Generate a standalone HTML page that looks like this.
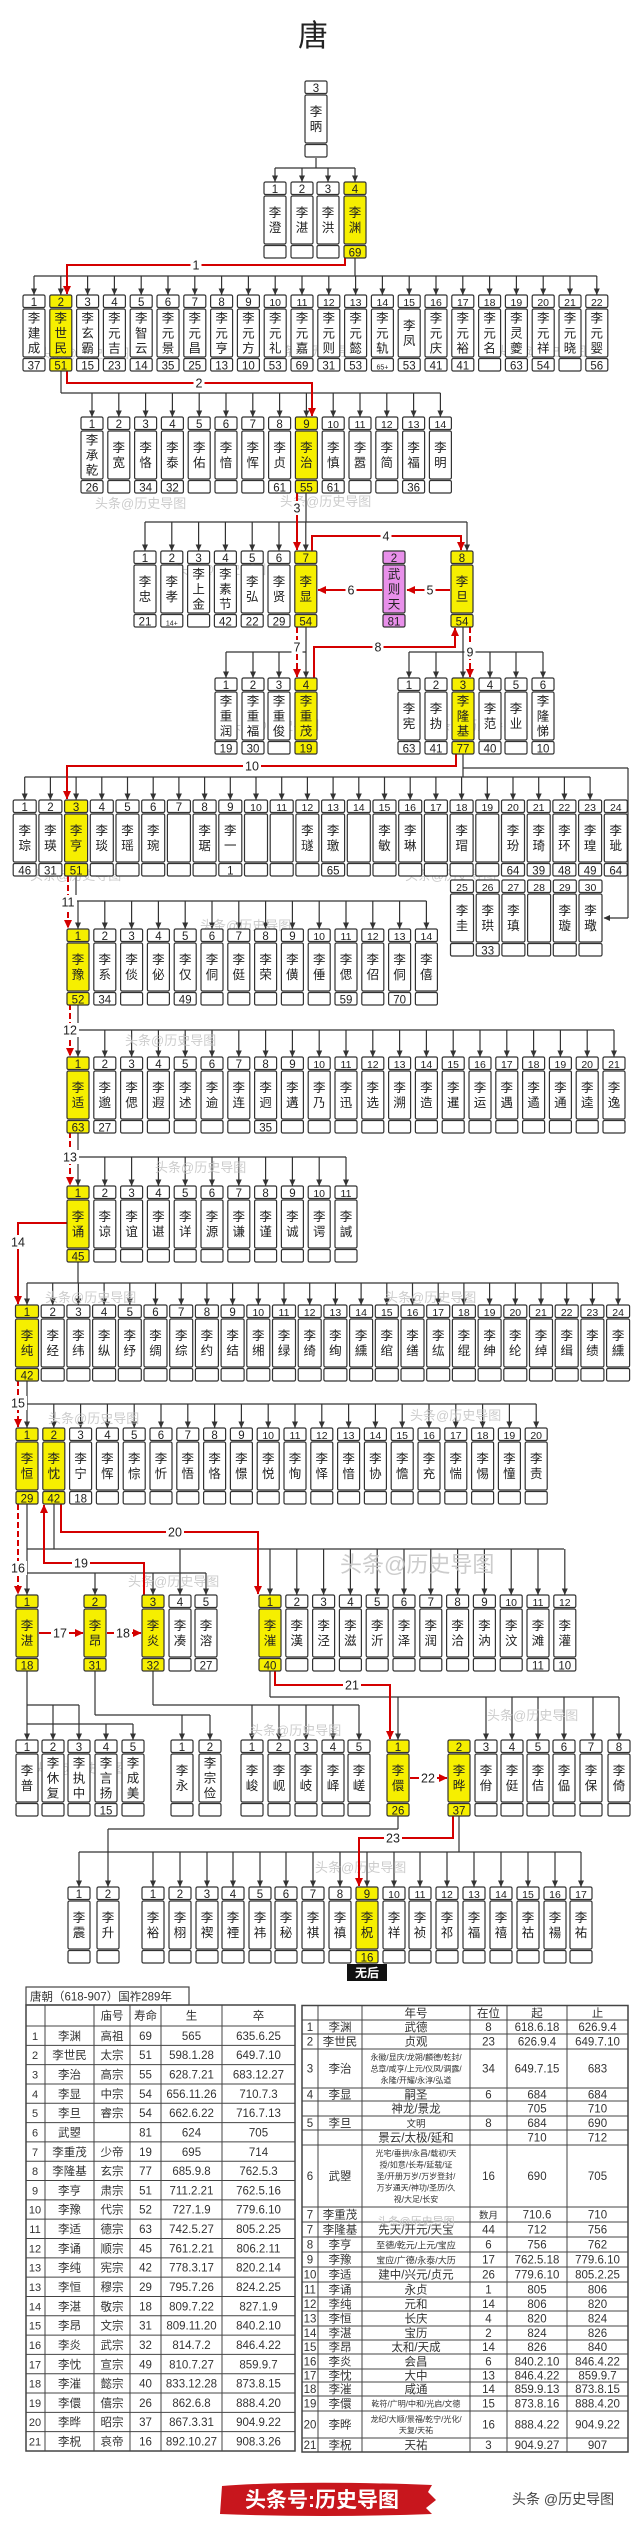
<!DOCTYPE html>
<html><head><meta charset="utf-8"><style>
html,body{margin:0;padding:0;background:#fff;width:640px;height:2542px;overflow:hidden}
svg{display:block}
text{font-family:"Liberation Sans","Noto Sans CJK SC",sans-serif}
</style></head><body>
<svg id="s" width="640" height="2542" viewBox="0 0 640 2542" xmlns="http://www.w3.org/2000/svg">
<defs>
<marker id="a" markerWidth="7" markerHeight="7" refX="6" refY="3.5" orient="auto" markerUnits="userSpaceOnUse"><path d="M0,0.5 L6.5,3.5 L0,6.5 Z" fill="#333"/></marker>
<marker id="r" markerWidth="9" markerHeight="9" refX="8" refY="4.5" orient="auto" markerUnits="userSpaceOnUse"><path d="M0,0.5 L8.5,4.5 L0,8.5 Z" fill="#d40000"/></marker>
</defs>
<rect width="640" height="2542" fill="#fff"/>
<g id="g"></g>
</svg>
<script>
var S=[];
var Y='#f6ef00',P='#e890ea';
function esc(t){return String(t)}
function box(cx,top,num,name,age,fill,w){
 w=w||22;fill=fill||'#fff';var x=cx-w/2;
 var st='stroke="#333" stroke-width="1.2"';
 S.push('<rect x="'+x+'" y="'+top+'" width="'+w+'" height="12.5" rx="1.5" fill="'+fill+'" '+st+'/>');
 S.push('<rect x="'+x+'" y="'+(top+14)+'" width="'+w+'" height="48" rx="1.5" fill="'+fill+'" '+st+'/>');
 S.push('<rect x="'+x+'" y="'+(top+63.5)+'" width="'+w+'" height="12.5" rx="1.5" fill="'+fill+'" '+st+'/>');
 var fs=String(num).length>1?10.5:11.5;
 S.push('<text x="'+cx+'" y="'+(top+10.8)+'" font-size="'+fs+'" text-anchor="middle" fill="#222">'+num+'</text>');
 if(name){var ch=Array.from(name),n=ch.length,lh=15,c=top+14+24,y0=c-n*lh/2+lh*0.8;
  for(var i=0;i<n;i++)S.push('<text x="'+cx+'" y="'+(y0+i*lh)+'" font-size="12.5" text-anchor="middle" fill="#222">'+ch[i]+'</text>');}
 if(age){var af=age.indexOf('+')>=0?7:11.5;
  S.push('<text x="'+cx+'" y="'+(top+74.3)+'" font-size="'+af+'" text-anchor="middle" fill="#222">'+age+'</text>');}
}
function row(xs,top,nums,names,ages,yel,w){
 for(var i=0;i<names.length;i++){box(xs[i],top,nums?nums[i]:(i+1),names[i],(ages&&ages[i])||'',(yel&&yel.indexOf(i)>=0)?Y:null,w);}
}
function seq(s,p,n){var a=[];for(var i=0;i<n;i++)a.push(+(s+p*i).toFixed(1));return a}
function ln(x1,y1,x2,y2){S.push('<line x1="'+x1+'" y1="'+y1+'" x2="'+x2+'" y2="'+y2+'" stroke="#333" stroke-width="1.2"/>')}
function drop(x,y1,y2){S.push('<line x1="'+x+'" y1="'+y1+'" x2="'+x+'" y2="'+(y2-0.5)+'" stroke="#333" stroke-width="1.2" marker-end="url(#a)"/>')}
function bus(px,py,by,xs,ty,hx1,hx2){
 ln(px,py,px,by);
 var mn=Math.min.apply(null,xs.concat([px])),mx=Math.max.apply(null,xs.concat([px]));
 if(hx1!=null)mn=hx1;if(hx2!=null)mx=hx2;
 ln(mn,by,mx,by);xs.forEach(function(x){drop(x,by,ty)});
}
function red(pts,dash){S.push('<polyline points="'+pts.map(function(p){return p.join(',')}).join(' ')+'" fill="none" stroke="#d40000" stroke-width="2"'+(dash?' stroke-dasharray="6,3"':'')+' marker-end="url(#r)"/>')}
function lab(x,y,t){var w=t.length*7+4;S.push('<rect x="'+(x-w/2)+'" y="'+(y-7)+'" width="'+w+'" height="14" fill="#fff"/>');S.push('<text x="'+x+'" y="'+(y+4.5)+'" font-size="12.5" text-anchor="middle" fill="#222">'+t+'</text>')}
function wm(x,y,fs){S.push('<text x="'+x+'" y="'+y+'" font-size="'+(fs||13)+'" fill="#c4c4c4" opacity="0.85">头条@历史导图</text>')}

// title
S.push('<text x="313" y="46" font-size="30" text-anchor="middle" fill="#222">唐</text>');

// connectors black
bus(316,158,168,[275,302,328,355],182);
var C=seq(34,26.8,22);
bus(355,258,276,C,295);
var D=seq(92,26.8,14);
bus(61,371,393,D,417);
var E=seq(145,26.8,7);
bus(306,492,522,E.concat([467]),551);
var F=[226,253,279,306];
bus(306,627,652,F,678);
var G=[409,436,463,490,516,543];
bus(463,627,652,G,678);
var H=seq(24.7,25.7,24);
bus(463,753,777,H.slice(0,23),800);
ln(463,768,628,768);ln(628,768,628,918);
S.push('<line x1="628" y1="918" x2="604" y2="918" stroke="#333" stroke-width="1.2" marker-end="url(#a)"/>');
var H2=seq(462,25.7,6);
var I=seq(78,26.8,14);
bus(76,876,901,I,929);
var J=seq(78,26.8,21);
bus(78,1004,1030,J,1057);
var K=seq(78,26.8,11);
bus(78,1132,1157,K,1186);
var L=seq(27,25.7,24);
bus(78,1261,1283,L,1305);
var M=seq(27,26.8,20);
bus(27,1380,1404,M,1428);
// row M -> N
bus(27,1504,1573,[27,95,153,206],1595);
var NR=seq(270,26.8,12);
ln(54,1504,54,1549);ln(27,1549,564,1549);drop(180,1549,1595);NR.forEach(function(x){drop(x,1549,1595)});
// N -> O
ln(27,1670,27,1724);ln(27,1705,79,1705);ln(27,1724,133,1724);
drop(27,1724,1740);drop(53,1705,1740);drop(79,1705,1740);drop(106,1724,1740);drop(133,1724,1740);
bus(95,1670,1715,[182,210],1740);
bus(153,1670,1705,[252,279,306,333,359],1740);
bus(270,1670,1697,[398,486,512,538,564,593,619],1740);
// O -> P
ln(398,1815,398,1829);ln(108,1829,398,1829);drop(108,1829,1887);
var PX=[153,180,207,233,260,286,313,340,367,394,420,447,474,501,528,555,581];
bus(459,1815,1852,[79].concat(PX),1887,79,581);

// watermarks
[[38,358],[270,356],[495,356],[95,508],[280,506],[175,574],[228,730],[425,730],[30,880],[405,880],[200,930],[125,1045],[155,1172],[45,1302],[385,1302],[48,1423],[410,1420],[128,1586],[250,1735],[487,1720],[33,1773],[315,1872]].forEach(function(p){wm(p[0],p[1])});
wm(340,1572,22);

// red connectors
red([[345,258],[345,265],[67,265],[67,294]]);lab(196,265,'1');
red([[67,371],[67,383],[312,383],[312,416]]);lab(199,383,'2');
red([[297,492],[297,550]]);lab(297,508,'3');
red([[312,551],[312,536],[461,536],[461,550]]);lab(386,536,'4');
red([[450,590],[407,590]]);lab(430,590,'5');
red([[382,590],[318,590]]);lab(351,590,'6');
red([[297,627],[297,677]],true);lab(297,647,'7');
red([[314,678],[314,647],[455,647],[455,628]]);lab(378,647,'8');
red([[470,627],[470,677]],true);lab(470,652,'9');
red([[456,753],[456,766],[67,766],[67,799]]);lab(252,766,'10');
red([[68,876],[68,928]],true);lab(68,902,'11');
red([[70,1004],[70,1056]],true);lab(70,1030,'12');
red([[70,1132],[70,1185]],true);lab(70,1157,'13');
red([[67,1223],[18,1223],[18,1304]]);lab(18,1242,'14');
red([[18,1380],[18,1427]],true);lab(18,1403,'15');
red([[18,1504],[18,1594]],true);lab(18,1568,'16');
red([[144,1595],[144,1563],[44,1563],[44,1505]]);lab(81,1563,'19');
red([[61,1504],[61,1532],[258,1532],[258,1594]]);lab(175,1532,'20');
red([[39,1633],[83,1633]]);lab(60,1633,'17');
red([[107,1633],[141,1633]]);lab(123,1633,'18');
red([[275,1670],[275,1685],[390,1685],[390,1739]]);lab(352,1685,'21');
red([[410,1778],[447,1778]]);lab(428,1778,'22');
red([[453,1815],[453,1838],[359,1838],[359,1886]]);lab(393,1838,'23');

// boxes
box(316,81,'3','李昞','');
row([275,302,328,355],182,null,['李澄','李湛','李洪','李渊'],['','','','69'],[3]);
row(C,295,null,['李建成','李世民','李玄霸','李元吉','李智云','李元景','李元昌','李元亨','李元方','李元礼','李元嘉','李元则','李元懿','李元轨','李凤','李元庆','李元裕','李元名','李灵夔','李元祥','李元晓','李元婴'],['37','51','15','23','14','35','25','13','10','53','69','31','53','65+','53','41','41','','63','54','','56'],[1]);
row(D,417,null,['李承乾','李宽','李恪','李泰','李佑','李愔','李恽','李贞','李治','李慎','李嚣','李简','李福','李明'],['26','','34','32','','','','61','55','61','','','36',''],[8]);
row(E,551,null,['李忠','李孝','李上金','李素节','李弘','李贤','李显'],['21','14+','','42','22','29','54'],[6]);
box(394,551,'2','武则天','81',P);
box(462,551,'8','李旦','54',Y);
row(F,678,null,['李重润','李重福','李重俊','李重茂'],['19','30','','19'],[3]);
row(G,678,null,['李宪','李㧑','李隆基','李范','李业','李隆悌'],['63','41','77','40','','10'],[2]);
row(H,800,null,['李琮','李瑛','李亨','李琰','李瑶','李琬','','李琚','李一','','','李璲','李璬','','李敏','李琳','','李瑁','','李玢','李琦','李环','李瑝','李玼'],['46','31','51','','','','','','1','','','','65','','','','','','','64','39','48','49','64'],[2],23);
row(H2,880,[25,26,27,28,29,30],['李圭','李珙','李瑱','','李璇','李璥'],['','33','','','',''],null,23);
row(I,929,null,['李豫','李系','李倓','李佖','李仅','李侗','李侹','李荣','李僙','李倕','李偲','李佋','李侗','李僖'],['52','34','','','49','','','','','','59','','70',''],[0]);
row(J,1057,null,['李适','李邈','李偲','李遐','李述','李逾','李连','李迥','李遘','李乃','李迅','李选','李溯','李造','李暹','李运','李遇','李遹','李通','李逵','李逸'],['63','27','','','','','','35'],[0]);
row(K,1186,null,['李诵','李谅','李谊','李谌','李详','李源','李谦','李谨','李诚','李谔','李諴'],['45'],[0]);
row(L,1305,null,['李纯','李经','李纬','李纵','李纾','李绸','李综','李约','李结','李缃','李绿','李绮','李绚','李纁','李绾','李缮','李纮','李绲','李绅','李纶','李绰','李缉','李绩','李纁'],['42'],[0],23);
row(M,1428,null,['李恒','李忱','李宁','李恽','李悰','李忻','李悟','李恪','李憬','李悦','李恂','李怿','李愔','李协','李憺','李充','李惴','李惕','李憧','李责'],['29','42','18'],[0,1]);
row([27,95,153,180,206],1595,[1,2,3,4,5],['李湛','李昂','李炎','李凑','李溶'],['18','31','32','','27'],[0,1,2]);
row(NR,1595,null,['李漼','李漢','李泾','李滋','李沂','李泽','李润','李洽','李汭','李汶','李滩','李灌'],['40','','','','','','','','','','11','10'],[0]);
row([27,53,79,106,133],1740,null,['李普','李休复','李执中','李言扬','李成美'],['','','','15','']);
row([182,210],1740,null,['李永','李宗俭'],['','']);
row([252,279,306,333,359],1740,null,['李峻','李岘','李岐','李峄','李嵯'],[]);
box(398,1740,'1','李儇','26',Y);
row([459,486,512,538,564,591,619],1740,[2,3,4,5,6,7,8],['李晔','李佾','李侹','李佶','李偘','李保','李倚'],['37'],[0]);
row([79,108],1887,null,['李震','李升'],[]);
row(PX,1887,null,['李裕','李栩','李禊','李禋','李祎','李秘','李祺','李禛','李柷','李祥','李祯','李祁','李福','李禧','李祜','李禓','李祐'],['','','','','','','','','16'],[8]);
S.push('<rect x="347" y="1964" width="40" height="17" fill="#111"/><text x="367" y="1977" font-size="12" font-weight="bold" text-anchor="middle" fill="#fff">无后</text>');

// tables
function T(x,y,t,fs,anchor){S.push('<text x="'+x+'" y="'+y+'" font-size="'+fs+'" text-anchor="'+(anchor||'middle')+'" fill="#333">'+t+'</text>')}
function TL(x1,y1,x2,y2,w){S.push('<line x1="'+x1+'" y1="'+y1+'" x2="'+x2+'" y2="'+y2+'" stroke="#444" stroke-width="'+(w||1)+'"/>')}
S.push('<rect x="26" y="1987" width="163" height="18" fill="#fff" stroke="#444" stroke-width="1.2"/>');
T(30,2000.5,'唐朝（618-907）国祚289年',11.5,'start');
var lc=[26,45,94,130,161,222,295];
var ld=[['','','庙号','寿命','生','卒'],['1','李渊','高祖','69','565','635.6.25'],['2','李世民','太宗','51','598.1.28','649.7.10'],['3','李治','高宗','55','628.7.21','683.12.27'],['4','李显','中宗','54','656.11.26','710.7.3'],['5','李旦','睿宗','54','662.6.22','716.7.13'],['6','武曌','','81','624','705'],['7','李重茂','少帝','19','695','714'],['8','李隆基','玄宗','77','685.9.8','762.5.3'],['9','李亨','肃宗','51','711.2.21','762.5.16'],['10','李豫','代宗','52','727.1.9','779.6.10'],['11','李适','德宗','63','742.5.27','805.2.25'],['12','李诵','顺宗','45','761.2.21','806.2.11'],['13','李纯','宪宗','42','778.3.17','820.2.14'],['13','李恒','穆宗','29','795.7.26','824.2.25'],['14','李湛','敬宗','18','809.7.22','827.1.9'],['15','李昂','文宗','31','809.11.20','840.2.10'],['16','李炎','武宗','32','814.7.2','846.4.22'],['17','李忱','宣宗','49','810.7.27','859.9.7'],['18','李漼','懿宗','40','833.12.28','873.8.15'],['19','李儇','僖宗','26','862.6.8','888.4.20'],['20','李晔','昭宗','37','867.3.31','904.9.22'],['21','李柷','哀帝','16','892.10.27','908.3.26']];
var ly=[2005,2026];for(var i=1;i<=22;i++)ly.push(2026+i*(2451-2026)/22);
S.push('<rect x="26" y="2005" width="269" height="446" fill="none" stroke="#444" stroke-width="1.5"/>');
ly.forEach(function(y){TL(26,y,295,y)});lc.forEach(function(x){TL(x,2005,x,2451)});
ld.forEach(function(r,i){var yc=(ly[i]+ly[i+1])/2+4.2;r.forEach(function(t,j){if(t)T(j==0?lc[0]+9:(lc[j]+lc[j+1])/2,yc,t,j==0?11:11.5)})});
var rc=[302,318,362,470,507,567,628];
var rb=[2005.5,2020,2034,2049,2088,2101,2116,2130,2145,2207,2222,2237,2252,2267,2282,2297,2311,2326,2340,2354,2369,2382,2396,2411,2438,2452];
var rd=[['','','年号','在位','起','止'],['1','李渊','武德','8','618.6.18','626.9.4'],['2','李世民','贞观','23','626.9.4','649.7.10'],['3','李治',['永徽/显庆/龙朔/麟德/乾封/','总章/咸亨/上元/仪凤/调露/','永隆/开耀/永淳/弘道'],'34','649.7.15','683'],['4','李显','嗣圣','6','684','684'],['','','神龙/景龙','','705','710'],['5','李旦','文明','8','684','690'],['','','景云/太极/延和','','710','712'],['6','武曌',['光宅/垂拱/永昌/载初/天','授/如意/长寿/延载/证','圣/开册万岁/万岁登封/','万岁通天/神功/圣历/久','视/大足/长安'],'16','690','705'],['7','李重茂','','数月','710.6','710'],['7','李隆基','先天/开元/天宝','44','712','756'],['8','李亨','至德/乾元/上元/宝应','6','756','762'],['9','李豫','宝应/广德/永泰/大历','17','762.5.18','779.6.10'],['10','李适','建中/兴元/贞元','26','779.6.10','805.2.25'],['11','李诵','永贞','1','805','806'],['12','李纯','元和','14','806','820'],['13','李恒','长庆','4','820','824'],['14','李湛','宝历','2','824','826'],['15','李昂','太和/天成','14','826','840'],['16','李炎','会昌','6','840.2.10','846.4.22'],['17','李忱','大中','13','846.4.22','859.9.7'],['18','李漼','咸通','14','859.9.13','873.8.15'],['19','李儇',['乾符/广明/中和/光启/文德'],'15','873.8.16','888.4.20'],['20','李晔',['龙纪/大顺/景福/乾宁/光化/','天复/天祐'],'16','888.4.22','904.9.22'],['21','李柷','天祐','3','904.9.27','907']];
S.push('<rect x="302" y="2005.5" width="326" height="446.5" fill="none" stroke="#444" stroke-width="1.5"/>');
rb.forEach(function(y){TL(302,y,628,y)});rc.forEach(function(x){TL(x,2005.5,x,2452)});
rd.forEach(function(r,i){var y1=rb[i],y2=rb[i+1],yc=(y1+y2)/2;r.forEach(function(t,j){var xc=j==0?310:(rc[j]+rc[j+1])/2;
 if(Array.isArray(t)){var n=t.length,lh=(n>=3?(y2-y1-4)/n:11);var fs=Math.min(8,lh-1.5);t.forEach(function(s,k){T(xc,yc-(n*lh)/2+lh*(k+0.5)+fs*0.38,s,fs)})}
 else if(t){var fs=11.5;if(j==2&&t.length>8)fs=9;if(t=='文明'||t=='数月')fs=9.5;T(xc,yc+4.2,t,fs)}})});
S.push('<text x="416" y="2225" font-size="11" text-anchor="middle" fill="#c4c4c4">头条@历史导图</text>');

// banner
S.push('<path d="M222,2486 Q300,2480 432,2485 L428,2492 L436,2500 L426,2508 L432,2514 Q320,2518 220,2514 Z" fill="#c8161d"/>');
S.push('<text x="322" y="2507" font-size="21" font-weight="bold" text-anchor="middle" fill="#fff" font-family="Liberation Serif,Noto Serif CJK SC,serif">头条号:历史导图</text>');
S.push('<text x="512" y="2504" font-size="14" fill="#444">头条 @历史导图</text>');

document.getElementById('g').innerHTML=S.join('');
</script>
</body></html>
